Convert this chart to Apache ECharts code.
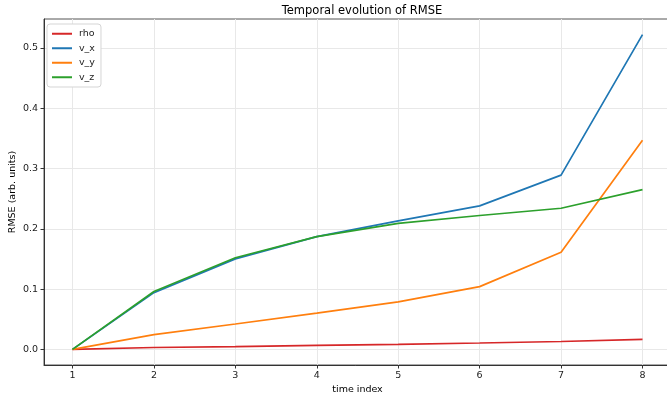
<!DOCTYPE html>
<html>
<head>
<meta charset="utf-8">
<script src="https://cdn.jsdelivr.net/npm/echarts@6/dist/echarts.min.js"></script>
<style>html,body{margin:0;padding:0;background:#fff}#c{width:667px;height:396px}</style>
</head>
<body>
<div id="c"></div>
<script>
var timeIndex = [1, 2, 3, 4, 5, 6, 7, 8];
var rho = [0.0, 0.003, 0.0045, 0.0066, 0.0083, 0.0105, 0.013, 0.0166];
var v_x = [0.0, 0.094, 0.150, 0.187, 0.213, 0.238, 0.289, 0.522];
var v_y = [0.0, 0.0244, 0.042, 0.060, 0.0786, 0.104, 0.161, 0.347];
var v_z = [0.0, 0.096, 0.152, 0.187, 0.209, 0.222, 0.234, 0.265];
var yTicks = [0.0, 0.1, 0.2, 0.3, 0.4, 0.5];

function pairs(arr) { return timeIndex.map(function (t, i) { return [t, arr[i]]; }); }
var font = 'DejaVu Sans';
var axisCol = '#333';
var chart = echarts.init(document.getElementById('c'), null, {renderer: 'canvas'});
function mk(name, data, color) {
  return {name: name, type: 'line', data: pairs(data), showSymbol: false, symbol: 'none',
    lineStyle: {color: color, width: 1.7}, itemStyle: {color: color}, animation: false};
}
chart.setOption({
  animation: false,
  backgroundColor: '#fff',
  title: {text: 'Temporal evolution of RMSE', left: 357, top: 0, textAlign: 'center',
    textStyle: {fontFamily: font, fontSize: 11.5, fontWeight: 'normal', color: '#000'}},
  grid: {left: 44, top: 19, width: 627, height: 346, containLabel: false, outerBoundsMode: 'none',
    show: true, borderColor: '#555', borderWidth: 1, backgroundColor: 'transparent'},
  legend: {orient: 'vertical', left: 47, top: 24, itemWidth: 20, itemHeight: 2, itemGap: 3,
    icon: 'rect', padding: [4, 6, 4, 5], borderColor: '#d5d5d5', borderWidth: 1, borderRadius: 3,
    backgroundColor: '#fff',
    textStyle: {fontFamily: font, fontSize: 9.5, color: '#222', lineHeight: 11.5, padding: [0, 0, 0, 2]},
    data: ['rho', 'v_x', 'v_y', 'v_z']},
  xAxis: {type: 'value', min: 0.65, max: 8.35,
    name: 'time index', nameLocation: 'middle', nameGap: 20, nameMoveOverlap: false,
    nameTextStyle: {fontFamily: font, fontSize: 9.5, color: '#000'},
    axisLine: {show: true, onZero: false, lineStyle: {color: axisCol, width: 1}},
    axisTick: {show: true, length: 3.5, inside: false, customValues: timeIndex, lineStyle: {color: axisCol}},
    axisLabel: {customValues: timeIndex, fontFamily: font, fontSize: 9.5, color: '#222', margin: 6,
      formatter: function (v) { return String(Math.round(v)); }},
    splitLine: {show: true, lineStyle: {color: '#e8e8e8', width: 1}}},
  yAxis: {type: 'value', min: -0.026, max: 0.548,
    name: 'RMSE (arb. units)', nameLocation: 'middle', nameGap: 26, nameRotate: 90, nameMoveOverlap: false,
    nameTextStyle: {fontFamily: font, fontSize: 9.5, color: '#000'},
    axisLine: {show: true, onZero: false, lineStyle: {color: axisCol, width: 1}},
    axisTick: {show: true, length: 3.5, inside: false, customValues: yTicks, lineStyle: {color: axisCol}},
    axisLabel: {customValues: yTicks, fontFamily: font, fontSize: 9.5, color: '#222', margin: 6,
      formatter: function (v) { return v.toFixed(1); }},
    splitLine: {show: true, lineStyle: {color: '#e8e8e8', width: 1}}},
  series: [mk('rho', rho, '#d62728'), mk('v_x', v_x, '#1f77b4'), mk('v_y', v_y, '#ff7f0e'), mk('v_z', v_z, '#2ca02c')]
});
</script>
</body>
</html>
